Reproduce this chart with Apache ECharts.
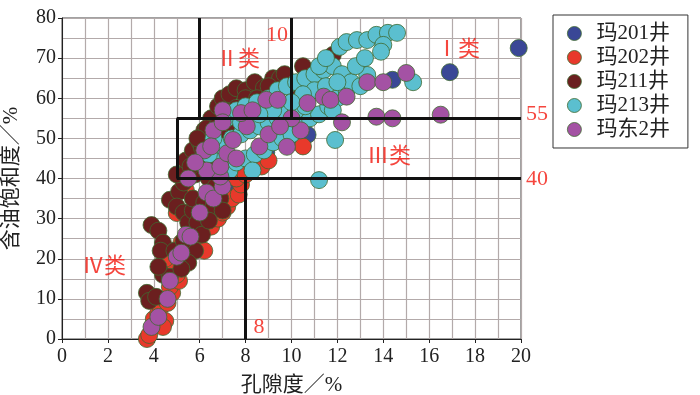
<!DOCTYPE html>
<html>
<head>
<meta charset="utf-8">
<script src="https://cdn.jsdelivr.net/npm/echarts@6/dist/echarts.min.js"></script>
<style>
  html, body { margin: 0; padding: 0; background: #fff; }
  #chart { width: 700px; height: 395px; }
</style>
</head>
<body>
<div id="chart"></div>
<script>
// wells, in legend order
const wellNames = ['玛201井', '玛202井', '玛211井', '玛213井', '玛东2井']
const wellColors = ['#3a4796', '#e8392b', '#6b1f1f', '#5bbfcf', '#a452a4']

// [porosity %, oil saturation %]
const ma201 = [[19.9, 72.5], [16.9, 66.5], [14.4, 64.6], [10.7, 50.9], [9.8, 49], [8.9, 46.5], [7.6, 38], [9.5, 52]]
const ma202 = [[3.7, 0], [3.8, 1], [4.0, 5], [4.2, 6.5], [4.5, 4.5], [4.4, 3], [4.3, 8], [4.6, 9], [4.8, 11.5], [4.7, 13],
  [5.1, 14.5], [5.0, 16], [5.3, 19], [5.5, 21], [5.7, 23], [5.9, 25], [6.1, 27], [6.5, 28], [6.8, 30], [7.0, 31.5],
  [7.2, 33], [7.4, 35], [7.7, 36], [7.8, 38.5], [7.6, 40], [8.0, 41], [8.7, 43], [9.0, 44.5], [10.5, 48], [4.6, 19],
  [5.2, 24], [5.6, 27], [6.0, 30], [6.2, 22], [4.5, 20], [5.0, 31.4], [5.4, 37], [6.6, 40], [7.2, 42]]
const ma211 = [[3.7, 11.5], [3.8, 9.5], [4.1, 10.5], [3.9, 28.4], [4.2, 27], [4.4, 24], [4.3, 22], [4.4, 16], [4.7, 15.5],
  [4.2, 18], [4.7, 34.7], [5.1, 36.7], [5.0, 33], [5.3, 31.5], [5.5, 29], [5.7, 32], [5.9, 29], [6.1, 26], [5.8, 22],
  [5.5, 19], [5.2, 17.5], [4.9, 22], [5.3, 24.5], [5.7, 35], [6.2, 34], [6.6, 33], [6.9, 35], [7.0, 32], [6.4, 29.5],
  [5.3, 39], [5.0, 41], [5.4, 41.4], [5.4, 44.5], [5.7, 47], [6.0, 49], [6.2, 52], [6.0, 44], [6.5, 45], [5.8, 41],
  [6.4, 40], [6.7, 38], [6.5, 55], [6.3, 52.5], [6.8, 58], [7.0, 60], [7.3, 61], [7.6, 62.5], [8.0, 62], [8.4, 64],
  [8.8, 62.6], [9.2, 65], [9.5, 65], [9.7, 66], [10.5, 68], [11.8, 70.8], [10.0, 63], [8.0, 60], [7.6, 57.6],
  [6.75, 53], [6.1, 47.6], [7.1, 50], [7.5, 53], [8.5, 60], [9.0, 63], [10.2, 61], [10.0, 59], [5.6, 43], [5.9, 50]]
const ma213 = [[7.3, 42], [7.6, 44], [8.0, 45], [8.4, 46], [8.8, 47], [9.2, 49], [9.6, 50], [10.0, 51], [10.4, 53],
  [10.8, 55], [11.2, 56], [11.6, 58], [12.0, 60], [12.4, 62], [6.8, 46], [7.0, 48], [7.4, 50], [7.8, 51], [8.2, 52],
  [8.6, 53], [9.0, 54], [9.4, 55], [9.8, 56], [10.2, 57], [10.6, 58], [7.2, 55], [7.6, 57], [8.0, 58], [8.5, 59],
  [9.0, 60], [9.4, 62], [9.8, 63], [10.2, 64], [10.6, 65], [11.0, 66], [11.4, 67], [11.8, 68], [12.2, 66], [12.6, 64],
  [13.0, 63], [11.0, 62], [11.5, 63], [12.0, 64], [10.5, 61], [11.2, 68], [11.5, 70], [12.1, 72.8], [12.4, 74],
  [12.85, 74.5], [13.3, 74.5], [13.7, 75.8], [14.2, 76.3], [14.6, 76.3], [14.0, 73.3], [13.9, 71.6], [13.3, 65.8],
  [15.3, 64], [11.9, 49.6], [11.2, 39.6], [6.6, 50], [6.4, 46], [8.3, 42], [11.8, 57], [10.0, 59], [9.2, 57],
  [8.6, 56], [7.8, 54], [12.8, 68], [13.2, 70]]
const madong2 = [[3.9, 3], [4.2, 5.5], [4.6, 10], [4.7, 14.5], [5.0, 20.5], [5.2, 21.5], [5.4, 26], [5.6, 25.5],
  [6.0, 31.5], [6.3, 36.5], [6.6, 35], [7.0, 38], [6.9, 40.5], [5.5, 40], [6.3, 42], [6.9, 43], [7.2, 46.3],
  [7.45, 49.6], [8.6, 48], [8.05, 53], [7.8, 56.3], [8.3, 57], [7.0, 57], [6.6, 52], [7.0, 54], [8.9, 59.6],
  [9.4, 59.6], [9.8, 47.9], [10.4, 52], [10.7, 58.8], [11.4, 60.4], [11.7, 59.6], [12.4, 60.4], [13.3, 64],
  [14.0, 64], [15.0, 66.3], [12.2, 54], [13.7, 55.4], [14.4, 55], [16.5, 55.9], [6.2, 47], [7.6, 45], [9.0, 51],
  [10.0, 55], [9.5, 53], [5.8, 44], [6.5, 48]]
const wellData = [ma201, ma202, ma211, ma213, madong2]

// class boundaries (segments, data units)
const classLines = [
  [[6, 55], [6, 80]], [[10, 55], [10, 80]], [[8, 0], [8, 40]],
  [[5, 55], [20, 55]], [[5, 40], [20, 40]], [[5, 40], [5, 55]]
]
// red annotation texts and where they sit
const noteTexts = ['10', 'Ⅱ类', 'Ⅰ类', 'Ⅲ类', 'Ⅳ类', '8', '55', '40']
const notePos = [[9.37, 75.8], [7.67, 69.6], [17.25, 72], [14.25, 45.4], [1.83, 18], [8.58, 3], [20.7, 55.9], [20.7, 39.7]]

const serif = '"Liberation Serif", "Times New Roman", "Noto Sans CJK SC", serif'

const chart = echarts.init(document.getElementById('chart'))

const series = wellNames.map((name, i) => ({
  name: name,
  type: 'scatter',
  symbolSize: 17,
  data: wellData[i],
  itemStyle: { color: wellColors[i], borderColor: '#3f6a30', borderWidth: 0.8, opacity: 1 },
  emphasis: { disabled: true },
  z: 2
}))

series.push({
  type: 'scatter',
  silent: true,
  symbolSize: 0,
  z: 5,
  data: [],
  markLine: {
    silent: true,
    symbol: 'none',
    animation: false,
    label: { show: false },
    lineStyle: { color: '#111', width: 3, type: 'solid' },
    data: classLines.map((seg) => [{ coord: seg[0] }, { coord: seg[1] }])
  }
})

series.push({
  type: 'scatter',
  silent: true,
  symbolSize: 0,
  clip: false,
  z: 6,
  data: noteTexts.map((t, i) => ({ name: t, value: notePos[i] })),
  label: {
    show: true,
    position: 'inside',
    formatter: (p) => p.name,
    color: '#f2180e',
    fontSize: 22,
    fontFamily: serif
  }
})

chart.setOption({
  animation: false,
  grid: {
    left: 62, right: 179, top: 18, bottom: 56,
    outerBoundsMode: 'none',
    containLabel: false,
    show: true, borderColor: '#444', borderWidth: 1
  },
  legend: {
    orient: 'vertical',
    left: 553,
    top: 15,
    data: wellNames,
    icon: 'circle',
    itemWidth: 14,
    itemHeight: 14,
    itemGap: 3,
    padding: [8, 18, 8, 14],
    borderColor: '#333',
    borderWidth: 1,
    backgroundColor: '#fff',
    textStyle: { fontSize: 21, lineHeight: 20, color: '#222', fontFamily: serif, padding: [0, 0, 0, 10] },
    itemStyle: { borderColor: '#3f6a30', borderWidth: 0.8 }
  },
  xAxis: {
    type: 'value',
    min: 0,
    max: 20,
    interval: 2,
    name: '孔隙度／%',
    nameLocation: 'middle',
    nameGap: 36,
    nameTextStyle: { fontSize: 21, color: '#222', fontFamily: serif },
    axisLine: { lineStyle: { color: '#222' } },
    axisTick: { show: true, length: 4, lineStyle: { color: '#222' } },
    axisLabel: { fontSize: 20, color: '#222', fontFamily: serif, margin: 8 },
    splitLine: { show: true, lineStyle: { color: '#b3aaaa', width: 1.2 } },
    minorTick: { show: false, splitNumber: 2 },
    minorSplitLine: { show: true, lineStyle: { color: '#b3aaaa', width: 1.2 } }
  },
  yAxis: {
    type: 'value',
    min: 0,
    max: 80,
    interval: 10,
    name: '含油饱和度／%',
    nameLocation: 'middle',
    nameGap: 40,
    nameTextStyle: { fontSize: 21, color: '#222', fontFamily: serif },
    axisLine: { show: true, lineStyle: { color: '#222' } },
    axisTick: { show: true, length: 4, lineStyle: { color: '#222' } },
    axisLabel: { fontSize: 20, color: '#222', fontFamily: serif, margin: 6 },
    splitLine: { show: true, lineStyle: { color: '#b3aaaa', width: 1.2 } },
    minorTick: { show: false, splitNumber: 2 },
    minorSplitLine: { show: true, lineStyle: { color: '#b3aaaa', width: 1.2 } }
  },
  series: series
})
</script>
</body>
</html>
